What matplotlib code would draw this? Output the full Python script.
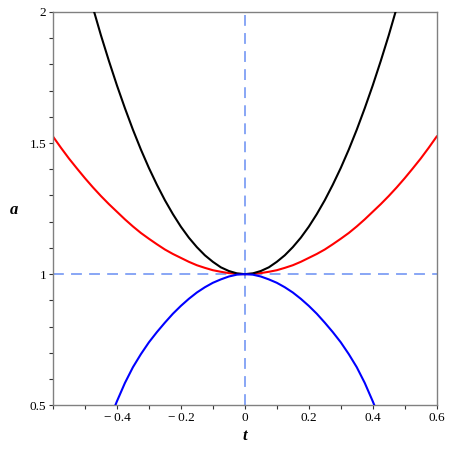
import numpy as np
import matplotlib.pyplot as plt
from matplotlib.ticker import MultipleLocator, FixedLocator

# values (curves are symmetric in t)
t_half = [0.0, 0.025, 0.05, 0.075, 0.1, 0.125, 0.15, 0.175, 0.2, 0.225, 0.25, 0.275,
          0.3, 0.325, 0.35, 0.375, 0.4, 0.425, 0.45, 0.475, 0.5, 0.525, 0.55, 0.575, 0.6]
black_half = [1.0, 1.003, 1.012, 1.026, 1.047, 1.072, 1.103, 1.139, 1.181, 1.229, 1.282, 1.341,
              1.405, 1.475, 1.551, 1.633, 1.72, 1.813, 1.911, 2.016, 2.13,
              np.nan, np.nan, np.nan, np.nan]
red_half = [1.0, 1.001, 1.004, 1.009, 1.015, 1.024, 1.034, 1.047, 1.062, 1.077, 1.094, 1.114,
            1.135, 1.157, 1.182, 1.209, 1.238, 1.267, 1.298, 1.331, 1.366, 1.403, 1.441, 1.482, 1.525]
blue_half = [1.0, 0.998, 0.991, 0.980, 0.967, 0.950, 0.930, 0.906, 0.879, 0.849, 0.815, 0.779,
             0.74, 0.695, 0.645, 0.585, 0.515, 0.44, 0.36,
             np.nan, np.nan, np.nan, np.nan, np.nan, np.nan]


def mirror(vals):
    vals = np.array(vals)
    return np.concatenate([vals[:0:-1], vals])


t = np.concatenate([-np.array(t_half[:0:-1]), t_half])
black = mirror(black_half)
red = mirror(red_half)
blue = mirror(blue_half)

plt.rcParams['font.family'] = ['Liberation Serif', 'DejaVu Serif']

fig = plt.figure(figsize=(4.49, 4.49), dpi=100)
ax = fig.add_axes([0.118, 0.0975, 0.8546, 0.8758])

dash_col = '#7f9ff5'
ax.axhline(1, color=dash_col, lw=1.3, dashes=(6, 4), zorder=1)
ax.axvline(0, color=dash_col, lw=1.3, dashes=(6, 4), zorder=1)

ax.plot(t, red, color='#ff0000', lw=1.5, zorder=2)
ax.plot(t, black, color='black', lw=1.5, zorder=3)
ax.plot(t, blue, color='#0000ff', lw=1.5, zorder=3)

ax.set_xlim(-0.6, 0.6)
ax.set_ylim(0.5, 2)

ax.xaxis.set_major_locator(FixedLocator([-0.4, -0.2, 0, 0.2, 0.4, 0.6]))
ax.xaxis.set_minor_locator(MultipleLocator(0.1))
ax.set_xticklabels(['\u2212\u20090.4', '\u2212\u20090.2', '0', '0.2', '0.4', '0.6'])
ax.yaxis.set_major_locator(FixedLocator([0.5, 1, 1.5, 2]))
ax.yaxis.set_minor_locator(MultipleLocator(0.1))
ax.set_yticklabels(['0.5', '1', '1.5', '2'])

for s in ax.spines.values():
    s.set_color('#808080')
    s.set_linewidth(1.0)

ax.tick_params(which='both', direction='out', length=3, width=0.8, color='#333333',
               labelsize=9.5, pad=2, top=False, right=False)

fig.text(245 / 449, 1 - 436 / 449, 't', fontsize=12, fontweight='bold', fontstyle='italic',
         ha='center', va='center')
fig.text(14 / 449, 1 - 210 / 449, 'a', fontsize=12, fontweight='bold', fontstyle='italic',
         ha='center', va='center')

fig.savefig('out.png', dpi=100)
